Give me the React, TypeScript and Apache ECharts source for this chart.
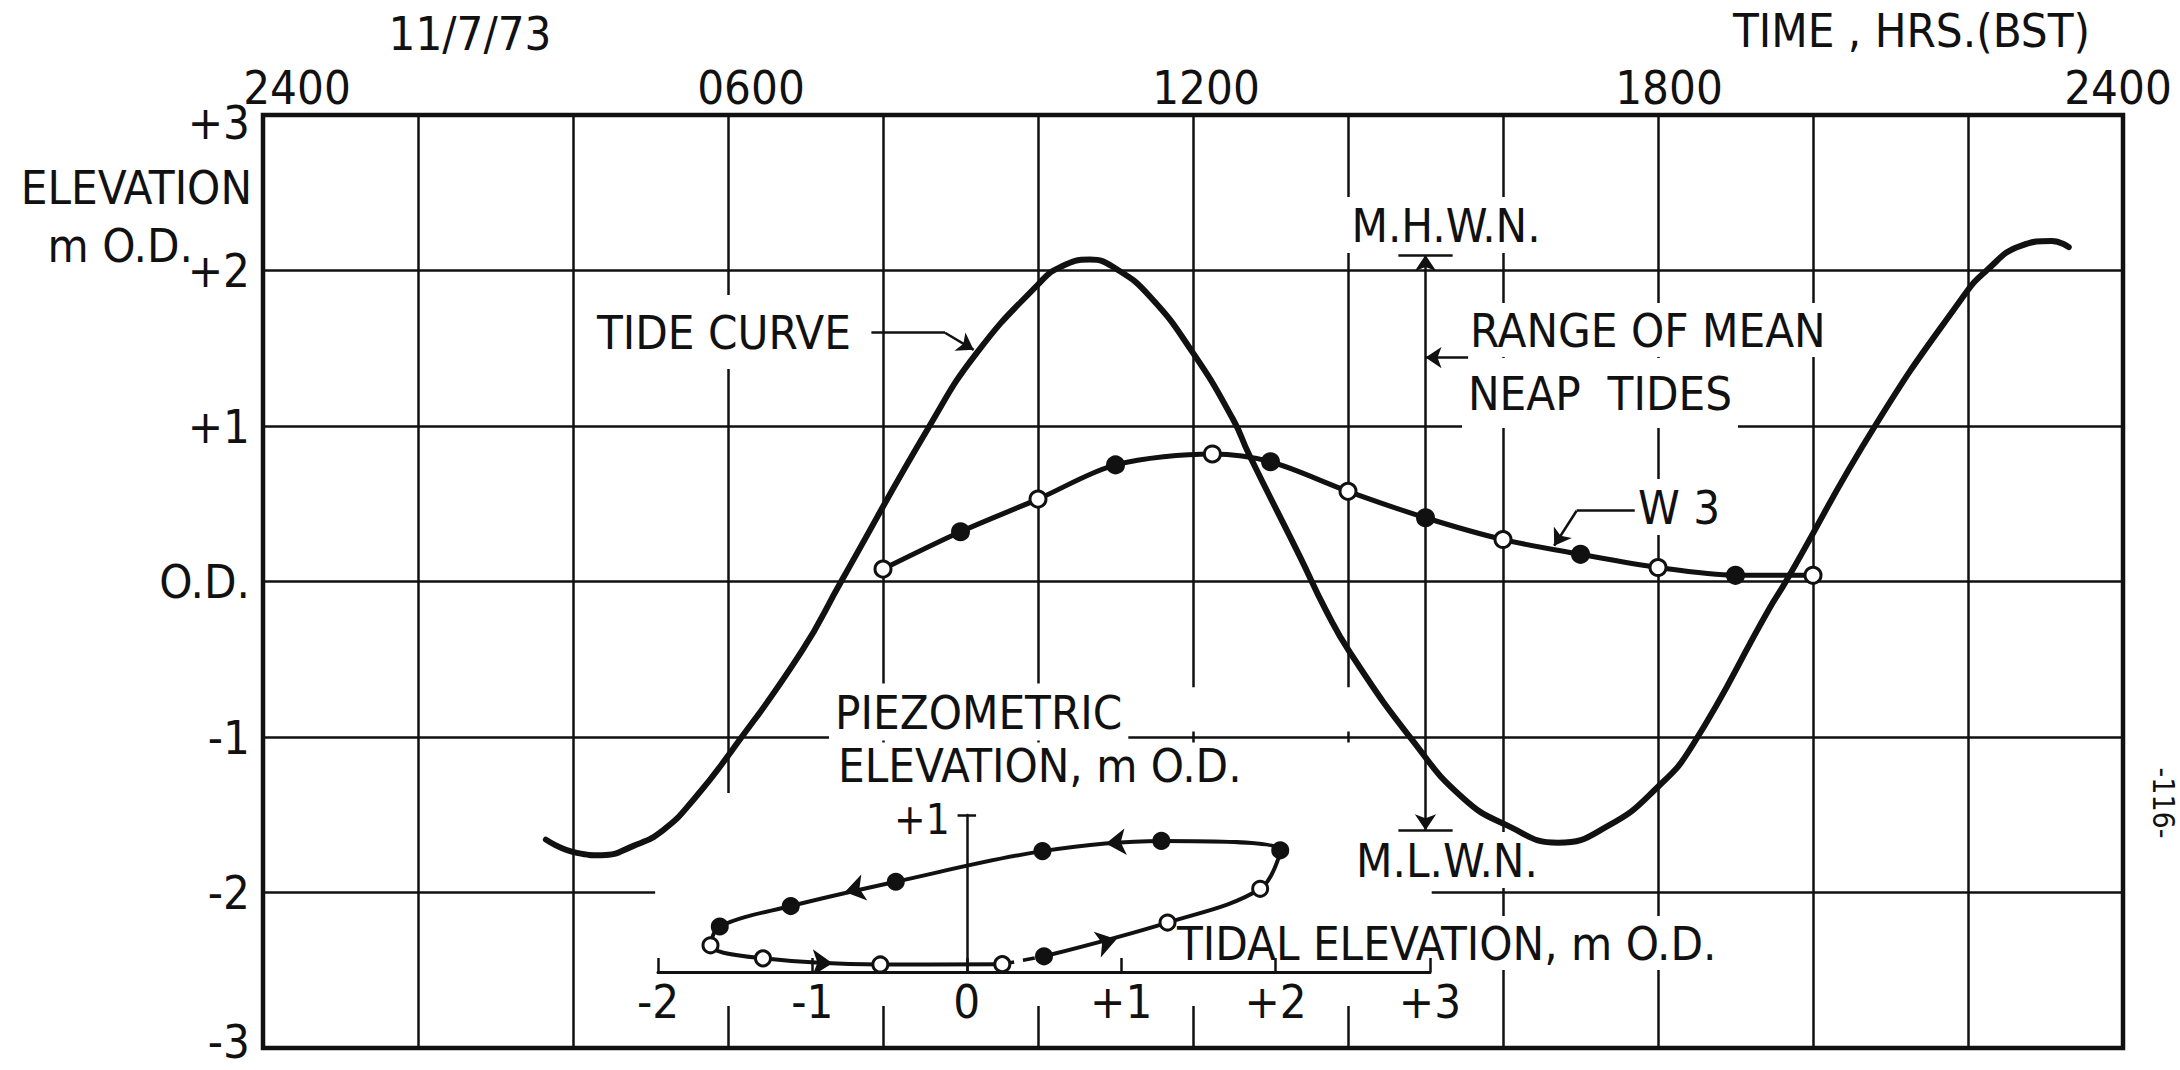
import React, { useEffect, useRef } from "react";
import * as echarts from "echarts";

const FONT = "'Liberation Sans Narrow', 'DejaVu Sans Condensed', 'Liberation Sans', Arial, sans-serif";
const INK = "#111111";
const PAPER = "#ffffff";
const TEXT_SIZE = 47;

// Tide curve, 11/7/73: time in hours (BST), elevation in m O.D.
const TIDE_HOURS = [
  3.65, 4.05, 4.37, 4.78, 5.16, 5.56, 6.06, 6.95, 7.46, 8.6,
  9.21, 10.0, 10.28, 10.67, 11.01, 11.45, 12.0, 12.52, 12.72, 13.38,
  13.71, 14.03, 14.83, 15.48, 16.06, 16.71, 17.36, 18.0, 18.45, 19.43,
  19.65, 20.8, 21.92, 22.24, 22.69, 23.08, 23.3,
];
const TIDE_LEVELS = [
  -1.66, -1.745, -1.76, -1.7, -1.6, -1.4, -1.08, -0.45, 0.0, 1.0,
  1.47, 1.91, 2.02, 2.07, 2.01, 1.83, 1.47, 1.04, 0.82, 0.16,
  -0.18, -0.46, -1.02, -1.39, -1.57, -1.68, -1.57, -1.32, -1.05, -0.18,
  0.0, 1.0, 1.82, 2.0, 2.16, 2.19, 2.15,
];

// Piezometric elevation in observation well W 3 (m O.D.)
const W3_HOURS = [8, 9, 10, 11, 12.25, 13, 14, 15, 16, 17, 18, 19, 20];
const W3_LEVELS = [0.08, 0.32, 0.53, 0.75, 0.82, 0.77, 0.58, 0.41, 0.27, 0.175, 0.09, 0.04, 0.04];
const W3_OPEN_READINGS = [8, 10, 12.25, 14, 16, 18, 20];

// Inset: piezometric elevation against tidal elevation, readings 0800 to 2000
const LOOP_HOURS = [8, 9, 10, 11, 12.25, 13, 14, 15, 16, 17, 18, 19, 20];
const LOOP_TIDAL = [0.5, 1.3, 1.9, 2.03, 1.26, 0.49, -0.46, -1.14, -1.6, -1.66, -1.32, -0.56, 0.23];
const LOOP_PIEZO = [0.1, 0.315, 0.53, 0.775, 0.835, 0.77, 0.575, 0.42, 0.29, 0.17, 0.087, 0.048, 0.05];
const LOOP_OPEN_READINGS = [9, 10, 17, 18, 19, 20];
// Direction of travel round the loop: [from, to] in tidal / piezometric elevation
const LOOP_ARROWS = [
  [[-1.02, 0.06], [-0.87, 0.056]],
  [[0.82, 0.168], [0.97, 0.208]],
  [[1.05, 0.832], [0.9, 0.818]],
  [[-0.64, 0.544], [-0.79, 0.51]],
];
const TIDAL_RANGE = [-2, 3];
const PIEZO_RANGE = [0, 1];

// Mean neap tide levels (m O.D.) marked at 1500
const MHWN = 2.1;
const MLWN = -1.6;
const RANGE_HOUR = 15;
const RANGE_BAR = [14.65, 15.35];

// Label pointers, in hours / m O.D.
const TIDE_POINTER = [[7.85, 1.6], [8.8, 1.6], [9.17, 1.49]];
const W3_POINTER = [[17.7, 0.455], [16.95, 0.455], [16.66, 0.23]];
const RANGE_POINTER = [[15.55, 1.44], [15.0, 1.44]];

// Time axis labels every six hours
const TIME_LABELS: Record<number, string> = { 0: "2400", 6: "0600", 12: "1200", 18: "1800", 24: "2400" };
const TIME_LABEL_PAD: Record<number, number[]> = {
  0: [0, 0, 0, 68],
  6: [0, 0, 0, 46],
  12: [0, 0, 0, 26],
  18: [0, 0, 0, 22],
  24: [0, 10, 0, 0],
};

// Areas of the main grid left clear for the inset: [hourFrom, hourTo, mTop, mBottom]
const CLEAR_ZONES = [
  [5.06, 15.08, -1.36, -2.73],
  [7.5, 14.6, -0.68, -0.965],
  [7.5, 14.6, -1.035, -1.36],
];

// Inset plot area, px
const INSET = { left: 658, top: 815, width: 772, height: 157 };

type Note = { text: string; x: number; y: number; align: string; pad?: number[]; size?: number; rotation?: number };
const NOTES: Note[] = [
  { text: "11/7/73", x: 470, y: 33, align: "center" },
  { text: "TIME , HRS.(BST)", x: 2090, y: 30, align: "right" },
  { text: "ELEVATION", x: 252, y: 187, align: "right" },
  { text: "m O.D.", x: 193, y: 245, align: "right" },
  { text: "TIDE CURVE", x: 593, y: 332, align: "left", pad: [12, 4, 18, 4] },
  { text: "M.H.W.N.", x: 1446, y: 225, align: "center", pad: [6, 6, 6, 6] },
  { text: "RANGE OF MEAN", x: 1464, y: 330, align: "left", pad: [8, 6, 2, 6] },
  { text: "NEAP  TIDES", x: 1462, y: 393, align: "left", pad: [2, 6, 24, 6] },
  { text: "W 3", x: 1632, y: 507, align: "left", pad: [6, 6, 6, 6] },
  { text: "M.L.W.N.", x: 1447, y: 860, align: "center", pad: [6, 6, 6, 6] },
  { text: "PIEZOMETRIC", x: 829, y: 712, align: "left", pad: [6, 6, 7, 6] },
  { text: "ELEVATION, m O.D.", x: 832, y: 765, align: "left", pad: [0, 6, 0, 6] },
  { text: "TIDAL ELEVATION, m O.D.", x: 1171, y: 943, align: "left", pad: [4, 6, 6, 6] },
  { text: "-116-", x: 2163, y: 803, align: "center", size: 30, rotation: -Math.PI / 2 },
];

function signed(v: number): string {
  return v > 0 ? `+${v}` : `${v}`;
}

function marker(open: boolean, size: number) {
  return {
    symbolSize: size,
    itemStyle: { color: open ? PAPER : INK, borderColor: INK, borderWidth: 3 },
  };
}

const labelFont = { fontSize: TEXT_SIZE, fontFamily: FONT, color: INK };

function buildOption() {
  const timeRich: Record<string, object> = {};
  Object.keys(TIME_LABEL_PAD).forEach((k) => {
    timeRich[`h${k}`] = { padding: TIME_LABEL_PAD[Number(k)], ...labelFont };
  });

  const tideData = TIDE_HOURS.map((h, i) => [h, TIDE_LEVELS[i]]);
  const w3Data = W3_HOURS.map((h, i) => ({
    value: [h, W3_LEVELS[i]],
    ...marker(W3_OPEN_READINGS.includes(h), 16),
  }));
  const loopData = LOOP_HOURS.map((h, i) => ({
    value: [LOOP_TIDAL[i], LOOP_PIEZO[i]],
    ...marker(LOOP_OPEN_READINGS.includes(h), 15),
  }));
  const last = LOOP_HOURS.length - 1;
  const loopGap = [
    [LOOP_TIDAL[last], LOOP_PIEZO[last]],
    [LOOP_TIDAL[0], LOOP_PIEZO[0]],
  ];

  const plainSegments = [
    [TIDE_POINTER[0], TIDE_POINTER[1]],
    [W3_POINTER[0], W3_POINTER[1]],
    [[RANGE_BAR[0], MHWN], [RANGE_BAR[1], MHWN]],
    [[RANGE_BAR[0], MLWN], [RANGE_BAR[1], MLWN]],
  ];
  const arrowSegments = [
    [TIDE_POINTER[1], TIDE_POINTER[2]],
    [W3_POINTER[1], W3_POINTER[2]],
    [RANGE_POINTER[0], RANGE_POINTER[1]],
  ];

  // the piezometric axis stands at zero tidal elevation
  const piezoAxisOffset = -INSET.width * (0 - TIDAL_RANGE[0]) / (TIDAL_RANGE[1] - TIDAL_RANGE[0]);

  const noteElements = NOTES.map((n) => ({
    type: "text",
    x: n.x,
    y: n.y,
    z: 2,
    rotation: n.rotation || 0,
    silent: true,
    style: {
      text: n.text,
      fill: INK,
      fontSize: n.size || TEXT_SIZE,
      fontFamily: FONT,
      lineHeight: n.size ? n.size : 44,
      align: n.align,
      verticalAlign: "middle",
      backgroundColor: n.pad ? PAPER : undefined,
      padding: n.pad || 0,
    },
  }));

  return {
    animation: false,
    backgroundColor: PAPER,
    textStyle: { fontFamily: FONT, color: INK },
    grid: [
      { left: 263, top: 115, width: 1860, height: 933, show: true, borderColor: INK, borderWidth: 4.5, backgroundColor: "transparent" },
      { ...INSET, show: false },
    ],
    xAxis: [
      {
        type: "value",
        gridIndex: 0,
        position: "top",
        min: 0,
        max: 24,
        interval: 2,
        axisLine: { show: false, onZero: false },
        axisTick: { show: false },
        splitLine: { show: true, lineStyle: { color: INK, width: 2.5 } },
        axisLabel: {
          show: true,
          margin: 4,
          showMinLabel: true,
          showMaxLabel: true,
          hideOverlap: false,
          ...labelFont,
          formatter: (v: number) => (TIME_LABELS[v] ? `{h${v}|${TIME_LABELS[v]}}` : ""),
          rich: timeRich,
        },
      },
      {
        type: "value",
        gridIndex: 1,
        position: "bottom",
        min: TIDAL_RANGE[0],
        max: TIDAL_RANGE[1],
        interval: 1,
        z: 3,
        axisLine: { show: true, onZero: false, lineStyle: { color: INK, width: 3 } },
        axisTick: { show: true, inside: true, length: 14, lineStyle: { color: INK, width: 2.5 } },
        splitLine: { show: false },
        axisLabel: {
          margin: 6,
          showMinLabel: true,
          showMaxLabel: true,
          hideOverlap: false,
          ...labelFont,
          formatter: (v: number) => signed(v),
        },
      },
    ],
    yAxis: [
      {
        type: "value",
        gridIndex: 0,
        min: -3,
        max: 3,
        interval: 1,
        axisLine: { show: false, onZero: false },
        axisTick: { show: false },
        splitLine: { show: true, lineStyle: { color: INK, width: 2.5 } },
        axisLabel: {
          margin: 13,
          showMinLabel: true,
          showMaxLabel: true,
          hideOverlap: false,
          ...labelFont,
          formatter: (v: number) => {
            if (v === 3) return "{top|+3}";
            if (v === -3) return "{bot|-3}";
            return v === 0 ? "O.D." : signed(v);
          },
          rich: {
            top: { padding: [14, 0, 0, 0], ...labelFont },
            bot: { padding: [0, 0, 14, 0], ...labelFont },
          },
        },
      },
      {
        type: "value",
        gridIndex: 1,
        min: PIEZO_RANGE[0],
        max: PIEZO_RANGE[1],
        interval: 1,
        offset: piezoAxisOffset,
        z: 3,
        axisLine: { show: true, onZero: false, lineStyle: { color: INK, width: 2.5 } },
        axisTick: { show: false },
        splitLine: { show: false },
        axisLabel: {
          margin: 17,
          showMaxLabel: true,
          formatter: (v: number) => (v === 1 ? "{p|+1}" : ""),
          rich: { p: { padding: [8, 0, 0, 0], fontSize: 42, fontFamily: FONT, color: INK } },
        },
      },
    ],
    graphic: { elements: noteElements },
    series: [
      {
        type: "custom",
        name: "clear",
        xAxisIndex: 0,
        yAxisIndex: 0,
        z: 1,
        silent: true,
        clip: false,
        encode: { x: [0, 1], y: [2, 3] },
        data: CLEAR_ZONES,
        renderItem: (_p: any, api: any) => {
          const a = api.coord([api.value(0), api.value(2)]);
          const b = api.coord([api.value(1), api.value(3)]);
          return {
            type: "rect",
            shape: { x: a[0], y: a[1], width: b[0] - a[0], height: b[1] - a[1] },
            style: { fill: PAPER },
          };
        },
      },
      {
        type: "line",
        name: "TIDE CURVE",
        xAxisIndex: 0,
        yAxisIndex: 0,
        z: 4,
        data: tideData,
        smooth: 0.5,
        symbol: "none",
        color: INK,
        lineStyle: { color: INK, width: 6, cap: "round" },
      },
      {
        type: "line",
        name: "W 3",
        xAxisIndex: 0,
        yAxisIndex: 0,
        z: 5,
        data: w3Data,
        smooth: 0.3,
        symbol: "circle",
        showSymbol: true,
        color: INK,
        lineStyle: { color: INK, width: 5 },
      },
      {
        type: "lines",
        name: "pointers",
        coordinateSystem: "cartesian2d",
        xAxisIndex: 0,
        yAxisIndex: 0,
        z: 4,
        silent: true,
        symbol: ["none", "none"],
        lineStyle: { color: INK, width: 2.5, opacity: 1 },
        data: plainSegments.map((c) => ({ coords: c })),
      },
      {
        type: "lines",
        name: "pointer heads",
        coordinateSystem: "cartesian2d",
        xAxisIndex: 0,
        yAxisIndex: 0,
        z: 4,
        silent: true,
        symbol: ["none", "arrow"],
        symbolSize: 16,
        lineStyle: { color: INK, width: 2.5, opacity: 1 },
        data: arrowSegments.map((c) => ({ coords: c })),
      },
      {
        type: "lines",
        name: "range of mean neap tides",
        coordinateSystem: "cartesian2d",
        xAxisIndex: 0,
        yAxisIndex: 0,
        z: 4,
        silent: true,
        symbol: ["arrow", "arrow"],
        symbolSize: 16,
        lineStyle: { color: INK, width: 2.5, opacity: 1 },
        data: [{ coords: [[RANGE_HOUR, MHWN], [RANGE_HOUR, MLWN]] }],
      },
      {
        type: "line",
        name: "loop",
        xAxisIndex: 1,
        yAxisIndex: 1,
        z: 5,
        clip: false,
        data: loopData,
        smooth: 0.35,
        symbol: "circle",
        showSymbol: true,
        color: INK,
        lineStyle: { color: INK, width: 4 },
      },
      {
        type: "line",
        name: "loop gap",
        xAxisIndex: 1,
        yAxisIndex: 1,
        z: 4,
        clip: false,
        data: loopGap,
        symbol: "none",
        color: INK,
        lineStyle: { color: INK, width: 3.5, type: [12, 9] },
      },
      {
        type: "lines",
        name: "loop direction",
        coordinateSystem: "cartesian2d",
        xAxisIndex: 1,
        yAxisIndex: 1,
        z: 6,
        silent: true,
        symbol: ["none", "arrow"],
        symbolSize: 20,
        lineStyle: { color: INK, width: 0, opacity: 1 },
        data: LOOP_ARROWS.map((c) => ({ coords: c })),
      },
      {
        type: "lines",
        name: "inset tick",
        coordinateSystem: "cartesian2d",
        xAxisIndex: 1,
        yAxisIndex: 1,
        z: 4,
        silent: true,
        symbol: ["none", "none"],
        lineStyle: { color: INK, width: 2.5, opacity: 1 },
        data: [{ coords: [[-0.06, 1], [0.06, 1]] }],
      },
    ],
  };
}

export default function App() {
  const ref = useRef<HTMLDivElement>(null);
  useEffect(() => {
    if (!ref.current) return;
    const chart = echarts.init(ref.current, null, { renderer: "svg" });
    chart.setOption(buildOption() as any);
    return () => chart.dispose();
  }, []);
  return (
    <div
      ref={ref}
      style={{ position: "fixed", left: 0, top: 0, width: 2180, height: 1070, background: "#fff" }}
    />
  );
}
